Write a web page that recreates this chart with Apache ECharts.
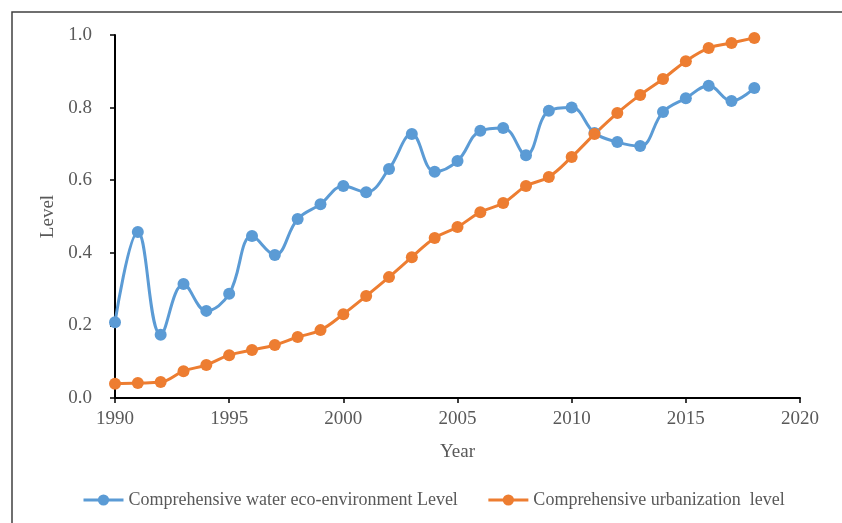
<!DOCTYPE html>
<html>
<head>
<meta charset="utf-8">
<script src="https://cdn.jsdelivr.net/npm/echarts@6/dist/echarts.min.js"></script>
<style>
  html, body { margin: 0; padding: 0; background: #ffffff; }
  #chart { width: 842px; height: 523px; }
</style>
</head>
<body>
<div id="chart"></div>
<script>
const years = [1990,1991,1992,1993,1994,1995,1996,1997,1998,1999,2000,2001,2002,2003,2004,2005,2006,2007,2008,2009,2010,2011,2012,2013,2014,2015,2016,2017,2018];
const waterLevel = [0.209,0.457,0.174,0.314,0.240,0.287,0.446,0.394,0.493,0.534,0.584,0.567,0.631,0.727,0.623,0.653,0.736,0.744,0.669,0.791,0.800,0.730,0.705,0.694,0.788,0.826,0.860,0.818,0.854];
const urbanLevel = [0.039,0.041,0.044,0.074,0.091,0.118,0.132,0.146,0.168,0.187,0.231,0.281,0.333,0.388,0.441,0.471,0.512,0.537,0.584,0.609,0.664,0.727,0.785,0.835,0.879,0.928,0.964,0.978,0.992];
const seriesNames = ['Comprehensive water eco-environment Level', 'Comprehensive urbanization  level'];
const seriesColors = ['#5B9BD5', '#ED7D31'];

const chart = echarts.init(document.getElementById('chart'), null, { renderer: 'canvas' });
const font = '"Liberation Serif", "Times New Roman", serif';
const textColor = '#595959';

function mkSeries(name, values, color) {
  return {
    name: name,
    type: 'line',
    data: years.map((y, i) => [y, values[i]]),
    smooth: 0.4,
    symbol: 'circle',
    symbolSize: 12,
    lineStyle: { color: color, width: 3 },
    itemStyle: { color: color },
    emphasis: { disabled: true }
  };
}

chart.setOption({
  animation: false,
  backgroundColor: '#ffffff',
  graphic: [{
    type: 'rect',
    shape: { x: 12, y: 12, width: 900, height: 600 },
    style: { fill: 'none', stroke: '#404040', lineWidth: 1.5 },
    silent: true
  }],
  grid: { left: 115, right: 42, top: 35, bottom: 125 },
  legend: {
    left: 82,
    top: 491,
    padding: 0,
    itemGap: 29,
    itemWidth: 40,
    itemHeight: 14,
    lineStyle: { width: 3 },
    textStyle: { fontFamily: font, fontSize: 18, color: textColor },
    data: seriesNames
  },
  xAxis: {
    type: 'value',
    min: 1990,
    max: 2020,
    interval: 5,
    name: 'Year',
    nameLocation: 'middle',
    nameGap: 45,
    nameTextStyle: { fontFamily: font, fontSize: 19, color: textColor },
    axisLine: { lineStyle: { color: '#000000', width: 2 } },
    axisTick: { show: true, length: 5, lineStyle: { color: '#000000', width: 1.5 } },
    axisLabel: { fontFamily: font, fontSize: 19, color: textColor, margin: 12, formatter: v => String(v) },
    splitLine: { show: false }
  },
  yAxis: {
    type: 'value',
    min: 0,
    max: 1,
    interval: 0.2,
    name: 'Level',
    nameLocation: 'middle',
    nameGap: 57,
    nameTextStyle: { fontFamily: font, fontSize: 19, color: textColor },
    axisLine: { show: true, lineStyle: { color: '#000000', width: 2 } },
    axisTick: { show: true, length: 5, lineStyle: { color: '#000000', width: 1.5 } },
    axisLabel: { fontFamily: font, fontSize: 19, color: textColor, margin: 23, formatter: v => v.toFixed(1) },
    splitLine: { show: false }
  },
  series: [
    mkSeries(seriesNames[0], waterLevel, seriesColors[0]),
    mkSeries(seriesNames[1], urbanLevel, seriesColors[1])
  ]
});
</script>
</body>
</html>
